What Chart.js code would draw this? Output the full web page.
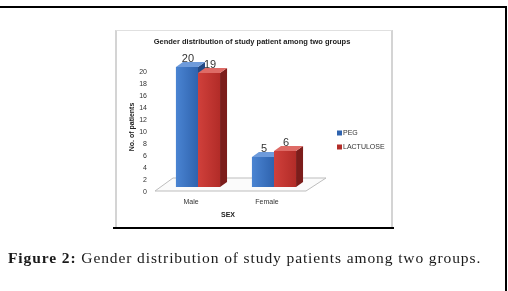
<!DOCTYPE html>
<html>
<head>
<meta charset="utf-8">
<script src="https://cdn.jsdelivr.net/npm/chart.js@4"></script>
<style>
    html, body { margin: 0; padding: 0; background: #fff; }
    body { width: 508px; height: 291px; position: relative; overflow: hidden; }
    .frame-top { position: absolute; left: 0; top: 6px; width: 507px; height: 2px; background: #000; }
    .frame-right { position: absolute; left: 505px; top: 6px; width: 2px; height: 285px; background: #000; }
    .chart-box { position: absolute; left: 115px; top: 30px; width: 274px; height: 197px;
        border-left: 2px solid #d4d4d4; border-right: 2px solid #d4d4d4; border-top: 1px solid #e0e0e0; }
    .chart-base { position: absolute; left: 113px; top: 227px; width: 281px; height: 2px; background: #000; }
    #chart { position: absolute; left: 0; top: 0; }
    .caption { position: absolute; left: 8px; top: 249px; font-family: "Liberation Serif", serif;
        font-size: 15.5px; letter-spacing: 0.9px; color: #1a1a1a; white-space: nowrap; }
</style>
</head>
<body>
<div class="frame-top"></div>
<div class="frame-right"></div>
<div class="chart-box"></div>
<div class="chart-base"></div>
<canvas id="chart" width="508" height="291"></canvas>
<div class="caption"><b>Figure 2:</b> Gender distribution of study patients among two groups.</div>
<script>
const chartTitle = 'Gender distribution of study patient among two groups';
const sexCategories = ['Male', 'Female'];
const seriesNames = ['PEG', 'LACTULOSE'];
const pegCounts = [20, 5];
const lactuloseCounts = [19, 6];
const yMin = 0;
const yMax = 20;
const yStep = 2;

// front / top / side colours for each series
const faceColors = [
    { left: '#4a84d2', right: '#2f63ae', top: '#6e9bdb', side: '#244a84' },
    { left: '#d0403b', right: '#b22c28', top: '#de6b66', side: '#7c1d1b' }
];
const DX = 7, DY = -5;

const ctx = document.getElementById('chart').getContext('2d');

function frontFill(i) {
    return (c) => {
        const el = c.element;
        if (!el || el.x === undefined) return faceColors[i].left;
        const w = el.width || 22;
        const g = c.chart.ctx.createLinearGradient(el.x - w / 2, 0, el.x + w / 2, 0);
        g.addColorStop(0, faceColors[i].left);
        g.addColorStop(1, faceColors[i].right);
        return g;
    };
}

const threeD = {
    id: 'threeD',
    beforeDatasetsDraw(chart) {
        const { ctx, chartArea: a } = chart;
        ctx.save();
        ctx.beginPath();
        ctx.moveTo(a.left - 5, a.bottom + 4);
        ctx.lineTo(a.right - 6, a.bottom + 4);
        ctx.lineTo(a.right + 14, a.bottom - 9);
        ctx.lineTo(a.left + 13, a.bottom - 9);
        ctx.closePath();
        ctx.fillStyle = '#fbfbfb';
        ctx.fill();
        ctx.strokeStyle = '#bdbdbd';
        ctx.lineWidth = 1;
        ctx.stroke();
        ctx.restore();
    },
    afterDatasetsDraw(chart) {
        const { ctx } = chart;
        ctx.save();
        chart.data.datasets.forEach((ds, i) => {
            const meta = chart.getDatasetMeta(i);
            const col = faceColors[i];
            meta.data.forEach((el, j) => {
                const w = el.width, l = el.x - w / 2, r = el.x + w / 2;
                const top = el.y, base = el.base;
                const g = ctx.createLinearGradient(l, 0, r, 0);
                g.addColorStop(0, col.left);
                g.addColorStop(1, col.right);
                ctx.fillStyle = g;
                ctx.fillRect(l, top, w, base - top);
                // side
                ctx.fillStyle = col.side;
                ctx.beginPath();
                ctx.moveTo(r, top);
                ctx.lineTo(r + DX, top + DY);
                ctx.lineTo(r + DX, base + DY);
                ctx.lineTo(r, base);
                ctx.closePath();
                ctx.fill();
                // top
                ctx.fillStyle = col.top;
                ctx.beginPath();
                ctx.moveTo(l, top);
                ctx.lineTo(r, top);
                ctx.lineTo(r + DX, top + DY);
                ctx.lineTo(l + DX, top + DY);
                ctx.closePath();
                ctx.fill();
            });
        });
        // value labels
        ctx.font = '11px "Liberation Sans", Arial, sans-serif';
        ctx.fillStyle = '#333';
        ctx.textAlign = 'center';
        ctx.textBaseline = 'alphabetic';
        chart.data.datasets.forEach((ds, i) => {
            chart.getDatasetMeta(i).data.forEach((el, j) => {
                ctx.fillText(String(ds.data[j]), el.x + 1, el.y - 5);
            });
        });
        ctx.restore();
    },
    afterDraw(chart) {
        const { ctx } = chart;
        ctx.save();
        ctx.fillStyle = '#222';
        ctx.textAlign = 'center';
        ctx.textBaseline = 'middle';
        ctx.font = 'bold 7.5px "Liberation Sans", Arial, sans-serif';
        ctx.fillText(chartTitle, 252, 42, 200);
        ctx.font = 'bold 7px "Liberation Sans", Arial, sans-serif';
        ctx.fillText('SEX', 228, 215);
        // legend
        ctx.font = '7px "Liberation Sans", Arial, sans-serif';
        ctx.textAlign = 'left';
        chart.data.datasets.forEach((ds, i) => {
            const y = 133 + i * 14;
            ctx.fillStyle = faceColors[i].right;
            ctx.fillRect(337, y - 2.5, 5, 5);
            ctx.fillStyle = '#333';
            ctx.fillText(ds.label, 343, y + 0.5);
        });
        ctx.restore();
    }
};

new Chart(ctx, {
    type: 'bar',
    data: {
        labels: sexCategories,
        datasets: [
            { label: seriesNames[0], data: pegCounts, backgroundColor: frontFill(0), borderWidth: 0 },
            { label: seriesNames[1], data: lactuloseCounts, backgroundColor: frontFill(1), borderWidth: 0 }
        ]
    },
    options: {
        responsive: false,
        animation: false,
        layout: { padding: { left: 120, right: 196, top: 67, bottom: 60 } },
        datasets: { bar: { categoryPercentage: 0.58, barPercentage: 1.0 } },
        plugins: {
            legend: { display: false },
            tooltip: { enabled: false }
        },
        scales: {
            x: {
                grid: { display: false, drawTicks: false },
                border: { display: false },
                ticks: {
                    color: '#333',
                    padding: 11,
                    labelOffset: -7,
                    font: { family: '"Liberation Sans", Arial, sans-serif', size: 7 }
                },
                afterFit(scale) { scale.height = 44; }
            },
            y: {
                min: yMin,
                max: yMax,
                grid: { display: false, drawTicks: false },
                border: { display: false },
                ticks: {
                    stepSize: yStep,
                    color: '#333',
                    padding: 13,
                    labelOffset: 5,
                    font: { family: '"Liberation Sans", Arial, sans-serif', size: 7 }
                },
                title: {
                    display: true,
                    text: 'No. of patients',
                    color: '#222',
                    padding: { top: 7.5, bottom: 0 },
                    font: { family: '"Liberation Sans", Arial, sans-serif', size: 7, weight: 'bold' }
                },
                afterFit(scale) { scale.width = 40; }
            }
        }
    },
    plugins: [threeD]
});
</script>
</body>
</html>
